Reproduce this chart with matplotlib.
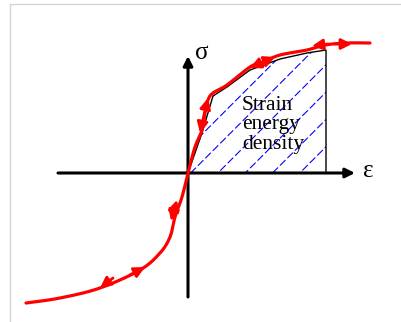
import matplotlib
matplotlib.use('Agg')
import matplotlib.pyplot as plt
from matplotlib.patches import Polygon
import numpy as np

# stress-strain curve, origin at the axes crossing (units ~ pixels)
strain = [-162, -128, -88, -48, -28, -18, -13, -6, 0, 7, 14, 17, 20, 25, 39,
          62, 75, 92, 119, 137, 159, 182]
stress = [-130, -125, -115, -97, -80, -64, -44, -24, 0, 26, 43, 60, 73, 80, 88,
          106, 111, 118, 123, 128, 130, 130]

# area under the loading curve (strain energy density)
area_strain = [0, 14, 25, 39, 62, 92, 119, 138, 138]
area_stress = [0, 40, 77, 86, 103, 114, 120, 123, 0]

# direction arrows along the curve: (tail, tip)
arrows = [((-58, -102), (-43, -94)),
          ((-75, -105), (-88, -115)),
          ((-14, -37), (-17, -48)),
          ((-14, -37), (-11, -27)),
          ((16, 58), (12, 40)),
          ((16, 58), (20, 75)),
          ((75, 111), (62, 105)),
          ((75, 111), (87, 116)),
          ((140, 129), (124, 127)),
          ((147, 129), (164, 129))]

area_text = "Strain\nenergy\ndensity"


def smooth(xs, ys, n=12):
    # Catmull-Rom pass through the read points, only for a rounder line
    p = np.column_stack([xs, ys]).astype(float)
    p = np.vstack([p[0], p, p[-1]])
    out = []
    t = np.linspace(0, 1, n, endpoint=False)[:, None]
    for i in range(1, len(p) - 2):
        p0, p1, p2, p3 = p[i - 1], p[i], p[i + 1], p[i + 2]
        seg = 0.5 * ((2 * p1) + (-p0 + p2) * t + (2 * p0 - 5 * p1 + 4 * p2 - p3) * t ** 2
                     + (-p0 + 3 * p1 - 3 * p2 + p3) * t ** 3)
        out.append(seg)
    out.append(p[-2][None, :])
    out = np.vstack(out)
    return out[:, 0], out[:, 1]


fig = plt.figure(figsize=(4.02, 3.22), dpi=100)
fig.patch.set_facecolor('white')
ax = fig.add_axes([0, 0, 1, 1])
ax.set_xlim(-188, 214)
ax.set_ylim(-149, 173)
ax.axis('off')

# light frame of the original picture
ax.plot([-178, 214], [169, 169], color='#d4d4d4', lw=1)
ax.plot([-178, -178], [169, -149], color='#d4d4d4', lw=1)

# hatched area
poly = Polygon(np.column_stack([area_strain, area_stress]), closed=True,
               facecolor='none', edgecolor='black', lw=1, zorder=2)
ax.add_patch(poly)
for c in np.arange(-52, 140, 27.3):
    xs = np.array([-20, 160])
    line, = ax.plot(xs, xs - c, color='blue', lw=0.8, ls=(0, (7, 2.5)), zorder=1)
    line.set_clip_path(poly)

# axes with arrow heads
ax.annotate('', xy=(167, 0), xytext=(-130, 0),
            arrowprops=dict(arrowstyle='-|>', color='black', lw=2.2,
                            mutation_scale=14, shrinkA=0, shrinkB=0), zorder=3)
ax.annotate('', xy=(0, 117), xytext=(0, -124),
            arrowprops=dict(arrowstyle='-|>', color='black', lw=2.2,
                            mutation_scale=14, shrinkA=0, shrinkB=0), zorder=3)
ax.text(14, 120, 'σ', fontsize=18, family='Liberation Serif', ha='center', va='center')
ax.text(180, 2, 'ε', fontsize=18, family='Liberation Serif', ha='center', va='center')

# red curve
sx, sy = smooth(strain, stress)
ax.plot(sx, sy, color='red', lw=2.3, solid_joinstyle='round',
        solid_capstyle='round', zorder=4)
for tail, tip in arrows:
    ax.annotate('', xy=tip, xytext=tail,
                arrowprops=dict(arrowstyle='-|>', color='red', lw=2,
                                mutation_scale=16, shrinkA=0, shrinkB=0), zorder=5)

ax.text(54, 48, area_text, fontsize=15.5, family='Liberation Serif',
        ha='left', va='center', linespacing=1.0, zorder=6)

fig.savefig('out.png', dpi=100)
